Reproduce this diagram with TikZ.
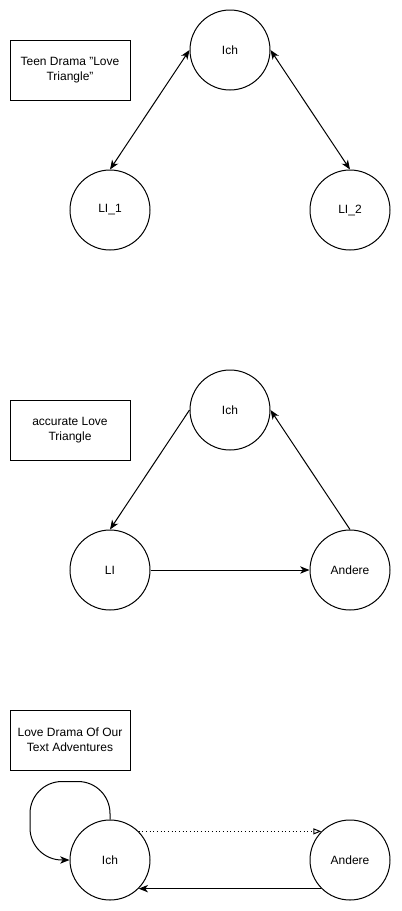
\documentclass[tikz,border=0pt]{standalone}
\usepackage{fontspec}
\setmainfont{Liberation Sans}
\usetikzlibrary{arrows.meta}

\tikzset{
  person/.style={draw, circle, line width=0.75, minimum size=60pt, inner sep=0pt, font=\fontsize{9}{11}\selectfont},
  titlebox/.style={draw, line width=0.75, minimum width=90pt, minimum height=45pt, align=center, font=\fontsize{9}{11}\selectfont},
  pfeil/.style={line width=0.75, -{Stealth[length=7pt,width=5.5pt,inset=2pt]}},
  doppelpfeil/.style={line width=0.75, {Stealth[length=7pt,width=5.5pt,inset=2pt]}-{Stealth[length=7pt,width=5.5pt,inset=2pt]}}
}

\begin{document}
\begin{tikzpicture}[x=0.75pt,y=0.75pt,yscale=-1,xscale=1]
\useasboundingbox (0,0) rectangle (401,911);
%Teen Drama
\node [titlebox] (boxA) at (70,70) {Teen Drama \symbol{34}Love\\Triangle\symbol{34}};
\node [person] (ichA) at (230,50) {Ich};
\node [person] (liA) at (110,210) {LI\_1};
\node [person] (liB) at (350,210) {LI\_2};
\draw [doppelpfeil] (ichA.west) -- (liA.north) ;
\draw [doppelpfeil] (ichA.east) -- (liB.north) ;
%accurate
\node [titlebox] (boxB) at (70,430) {accurate Love\\Triangle};
\node [person] (ichB) at (230,410) {Ich};
\node [person] (liC) at (110,570) {LI};
\node [person] (andB) at (350,570) {Andere};
\draw [pfeil] (ichB.west) -- (liC.north) ;
\draw [pfeil] (liC.east) -- (andB.west) ;
\draw [pfeil] (andB.north) -- (ichB.east) ;
%Text Adventures
\node [titlebox] (boxC) at (70,740) {Love Drama Of Our\\Text Adventures};
\node [person] (ichC) at (110,860) {Ich};
\node [person] (andC) at (350,860) {Andere};
\draw [pfeil, rounded corners=24] (ichC.north) -- ++(0,-38) -| (30,860) -- (ichC.west) ;
\draw [line width=0.75, dotted, -{Triangle[open,length=6pt,width=4.5pt]}] (ichC.45) -- (andC.135) ;
\draw [pfeil] (andC.-135) -- (ichC.-45) ;
\end{tikzpicture}
\end{document}
